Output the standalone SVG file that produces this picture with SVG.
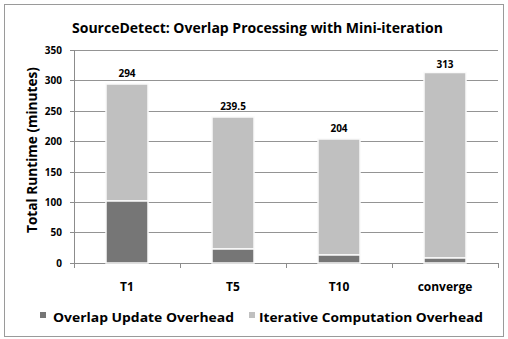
<svg xmlns="http://www.w3.org/2000/svg" width="508" height="339" viewBox="0 0 508 339">
<style>
text{font-family:"Open Sans","Liberation Sans",sans-serif;font-weight:bold;fill:#000}
.grid{stroke:#949494;stroke-width:1}
.ax{stroke:#8c8c8c;stroke-width:1}
.dark{fill:#767676}
.light{fill:#c0c0c0}
.bar{stroke:#fafafa;stroke-width:1.5}
.tick{font-size:10px;text-anchor:end}
.cat{font-size:12px;text-anchor:middle}
.val{font-size:10px;text-anchor:middle}
.leg{font-size:13px}
</style>
<rect x="4.5" y="4.5" width="499" height="332" fill="#fff" stroke="#9a9a9a"/>
<text x="257.5" y="33" font-size="14" text-anchor="middle" textLength="371" lengthAdjust="spacingAndGlyphs">SourceDetect: Overlap Processing with Mini-iteration</text>
<g id="gridlines">
<line class="grid" x1="74" y1="50.5" x2="498" y2="50.5"/>
<line class="grid" x1="74" y1="80.5" x2="498" y2="80.5"/>
<line class="grid" x1="74" y1="111.5" x2="498" y2="111.5"/>
<line class="grid" x1="74" y1="141.5" x2="498" y2="141.5"/>
<line class="grid" x1="74" y1="172.5" x2="498" y2="172.5"/>
<line class="grid" x1="74" y1="202.5" x2="498" y2="202.5"/>
<line class="grid" x1="74" y1="232.5" x2="498" y2="232.5"/>
</g>
<g id="axes">
<line class="ax" x1="74.5" y1="50" x2="74.5" y2="263"/>
<line class="ax" x1="70" y1="50.5" x2="74" y2="50.5"/>
<line class="ax" x1="70" y1="80.5" x2="74" y2="80.5"/>
<line class="ax" x1="70" y1="111.5" x2="74" y2="111.5"/>
<line class="ax" x1="70" y1="141.5" x2="74" y2="141.5"/>
<line class="ax" x1="70" y1="172.5" x2="74" y2="172.5"/>
<line class="ax" x1="70" y1="202.5" x2="74" y2="202.5"/>
<line class="ax" x1="70" y1="232.5" x2="74" y2="232.5"/>
<line class="ax" x1="70" y1="263.5" x2="498" y2="263.5"/>
<line class="ax" x1="74.5" y1="263" x2="74.5" y2="268"/>
<line class="ax" x1="180.5" y1="263" x2="180.5" y2="268"/>
<line class="ax" x1="286.5" y1="263" x2="286.5" y2="268"/>
<line class="ax" x1="392.5" y1="263" x2="392.5" y2="268"/>
<line class="ax" x1="498.5" y1="263" x2="498.5" y2="268"/>
</g>
<g id="yticks">
<text class="tick" x="62" y="54">350</text>
<text class="tick" x="62" y="84">300</text>
<text class="tick" x="62" y="115">250</text>
<text class="tick" x="62" y="145">200</text>
<text class="tick" x="62" y="176">150</text>
<text class="tick" x="62" y="206">100</text>
<text class="tick" x="62" y="236">50</text>
<text class="tick" x="62" y="267">0</text>
</g>
<text x="0" y="0" font-size="14" text-anchor="middle" textLength="166" lengthAdjust="spacingAndGlyphs" transform="translate(37,150) rotate(-90)">Total Runtime (minutes)</text>
<g id="bar-T1">
<rect class="bar light" x="106" y="84" width="42" height="117"/>
<rect class="bar dark" x="106" y="201" width="42" height="62"/>
<text class="val" x="127" y="77">294</text>
<text class="cat" x="127" y="291">T1</text>
</g>
<g id="bar-T5">
<rect class="bar light" x="212" y="117" width="42" height="132"/>
<rect class="bar dark" x="212" y="249" width="42" height="14"/>
<text class="val" x="233" y="110">239.5</text>
<text class="cat" x="233" y="291">T5</text>
</g>
<g id="bar-T10">
<rect class="bar light" x="318" y="139" width="42" height="116"/>
<rect class="bar dark" x="318" y="255" width="42" height="8"/>
<text class="val" x="339" y="132">204</text>
<text class="cat" x="339" y="291">T10</text>
</g>
<g id="bar-converge">
<rect class="bar light" x="424" y="72.5" width="42" height="185.5"/>
<rect class="bar dark" x="424" y="258" width="42" height="5"/>
<text class="val" x="445" y="68">313</text>
<text class="cat" x="445" y="291">converge</text>
</g>
<g id="legend">
<rect class="dark" x="40" y="312" width="6" height="6"/>
<text class="leg" x="53" y="322" textLength="181" lengthAdjust="spacingAndGlyphs">Overlap Update Overhead</text>
<rect class="light" x="249" y="312" width="6" height="6"/>
<text class="leg" x="259" y="322" textLength="224" lengthAdjust="spacingAndGlyphs">Iterative Computation Overhead</text>
</g>
</svg>
